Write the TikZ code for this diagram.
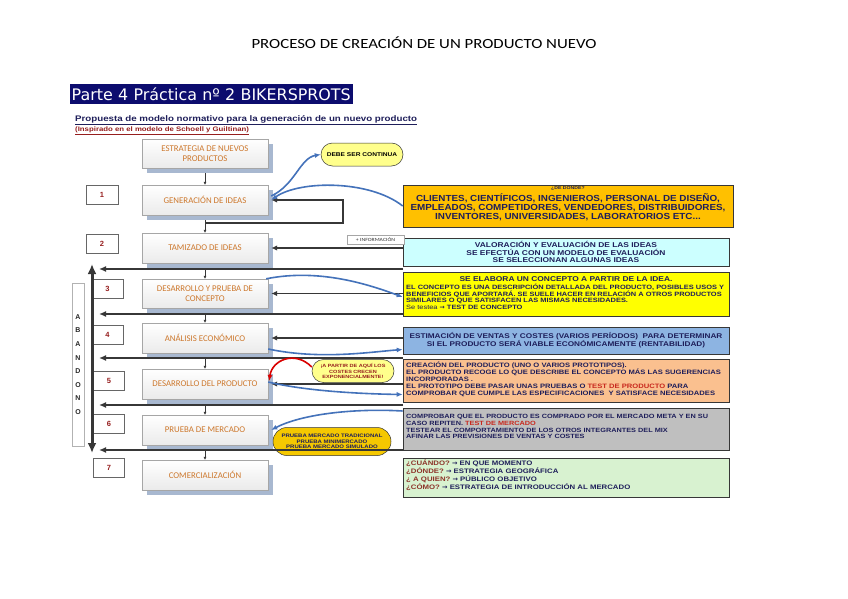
\documentclass[tikz,border=0pt]{standalone}
\usepackage{fontspec}
\setmainfont{Liberation Sans}
\newfontfamily\calib{Carlito}
\newfontfamily\calibw[FakeStretch=1.2]{Carlito}
\newfontfamily\verd{DejaVu Sans}
\newfontfamily\wide[FakeStretch=1.2]{Liberation Sans}
\newfontfamily\widem[FakeStretch=1.12]{Liberation Sans}
\newfontfamily\dejav{DejaVu Sans}
\usetikzlibrary{arrows.meta,shapes.misc,shadows}
\definecolor{navyband}{RGB}{12,12,110}
\definecolor{navytxt}{RGB}{30,30,90}
\definecolor{redtxt}{RGB}{150,30,30}
\definecolor{qred}{RGB}{140,50,40}
\definecolor{boxtxt}{RGB}{205,120,45}
\definecolor{shadowc}{RGB}{168,184,208}
\definecolor{dorange}{RGB}{255,192,0}
\definecolor{dcyan}{RGB}{204,255,255}
\definecolor{dyellow}{RGB}{255,255,0}
\definecolor{dblue}{RGB}{141,180,226}
\definecolor{dpeach}{RGB}{250,192,143}
\definecolor{dgray}{RGB}{191,191,191}
\definecolor{dgreen}{RGB}{216,242,208}
\definecolor{arrblue}{RGB}{68,114,186}
\definecolor{linedark}{RGB}{55,55,55}
\definecolor{testred}{RGB}{200,40,30}
\definecolor{ovalyel}{RGB}{255,255,140}
\definecolor{ovalgold}{RGB}{245,200,0}
\newcommand\rarr{{\dejav →}}
\begin{document}
\begin{tikzpicture}[x=1pt,y=-1pt,
 mainbox/.style={draw=gray!70, line width=0.4pt, shading=axis, top color=white, bottom color=gray!16,
   minimum width=126pt, minimum height=30pt, inner sep=1pt, align=center,
   font=\calib\fontsize{8.8}{10}\selectfont, text=boxtxt,
   general shadow={fill=shadowc, shadow xshift=5pt, shadow yshift=-5pt}},
 numbox/.style={draw=gray!80!black, line width=0.5pt, fill=white, minimum width=31pt, minimum height=19pt,
   inner sep=0pt, font=\bfseries\fontsize{7.5}{8}\selectfont, text=redtxt},
 descbox/.style={draw=linedark, line width=0.6pt, minimum width=326pt, inner sep=0pt},
 dtext/.style={inner sep=0pt, text=navytxt, font=\wide\bfseries\fontsize{6.2}{6.6}\selectfont, align=left},
 longarr/.style={draw=linedark, line width=2pt, -{Latex[length=7pt,width=6pt]}},
 inarr/.style={draw=linedark, line width=1.8pt, -{Latex[length=6pt,width=5.5pt]}},
 smallarr/.style={draw=linedark, line width=0.5pt, -{Latex[length=3pt,width=3pt]}},
 bluearr/.style={draw=arrblue, line width=1.6pt, -{Latex[length=6pt,width=5pt]}},
 redarr/.style={draw=red!85!black, line width=1.6pt, -{Latex[length=6pt,width=5pt]}},
 oval/.style={rounded rectangle, draw=black!80, line width=0.5pt, inner sep=1pt, align=center,
   font=\wide\bfseries\fontsize{5.2}{5.8}\selectfont}]
\fill[white] (0,0) rectangle (848,599);
\useasboundingbox (0,0) rectangle (848,599);

% headings
\node (title) at (424,43) {\calibw\fontsize{14}{16}\selectfont PROCESO DE CREACIÓN DE UN PRODUCTO NUEVO};
\node[fill=navyband, text=white, anchor=west, text width=280pt, inner xsep=1.5pt, minimum height=20pt, inner ysep=0pt,
  font=\verd\fontsize{15.9}{17}\selectfont] (band) at (70,94.5) {Parte 4 Práctica nº 2 BIKERSPROTS};
\node[anchor=west, inner sep=0pt, text=navytxt, font=\wide\bfseries\fontsize{8.1}{9}\selectfont] (prop) at (75,120)
  {\underline{Propuesta de modelo normativo para la generación de un nuevo producto}};
\node[anchor=west, inner sep=0pt, text=redtxt, font=\wide\bfseries\fontsize{6.5}{7}\selectfont] (insp) at (75,131)
  {\underline{(Inspirado en el modelo de Schoell y Guiltinan)}};

% main boxes
\node[mainbox, minimum height=29pt] (B0) at (205,153.5) {ESTRATEGIA DE NUEVOS\\PRODUCTOS};
\node[mainbox] (B1) at (205,200) {GENERACIÓN DE IDEAS};
\node[mainbox] (B2) at (205,248) {TAMIZADO DE IDEAS};
\node[mainbox, minimum height=29pt] (B3) at (205,293.5) {DESARROLLO Y PRUEBA DE\\CONCEPTO};
\node[mainbox] (B4) at (205,338) {ANÁLISIS ECONÓMICO};
\node[mainbox] (B5) at (205,384) {DESARROLLO DEL PRODUCTO};
\node[mainbox] (B6) at (205,430) {PRUEBA DE MERCADO};
\node[mainbox] (B7) at (205,475) {COMERCIALIZACIÓN};

\draw[smallarr] ([yshift=-5pt]B0.south) -- (B1.north);
\draw[smallarr] ([yshift=-5pt]B1.south) -- (B2.north);
\draw[smallarr] ([yshift=-5pt]B2.south) -- (B3.north);
\draw[smallarr] ([yshift=-5pt]B3.south) -- (B4.north);
\draw[smallarr] ([yshift=-5pt]B4.south) -- (B5.north);
\draw[smallarr] ([yshift=-5pt]B5.south) -- (B6.north);
\draw[smallarr] ([yshift=-5pt]B6.south) -- (B7.north);

% number boxes
\node[numbox, minimum width=32pt] (N1) at (102,195) {1};
\node[numbox, minimum width=32pt] (N2) at (102,244) {2};
\node[numbox] (N3) at (107.5,289) {3};
\node[numbox] (N4) at (107.5,334.5) {4};
\node[numbox] (N5) at (109,380.5) {5};
\node[numbox] (N6) at (109,424) {6};
\node[numbox] (N7) at (109,468) {7};

% abandono
\node[draw=gray!60, line width=0.5pt, minimum width=12pt, minimum height=163pt, inner sep=0pt] (abfr) at (78,364.5) {};
\node[align=center, inner sep=0pt, text=black!85, font=\bfseries\fontsize{7}{13.6}\selectfont] (aband) at (78,364.5)
  {A\\B\\A\\N\\D\\O\\N\\O};
\coordinate (vtop) at (92,264);
\coordinate (vbot) at (92,453);
\draw[draw=linedark, line width=3pt, {Latex[length=10pt,width=9pt]}-{Latex[length=10pt,width=9pt]}] (vtop) -- (vbot);

% description boxes
\node[descbox, fill=dorange, minimum width=330pt, minimum height=42pt] (D1) at (568,206) {};
\node[descbox, fill=dcyan, minimum height=28pt] (D2) at (566,252) {};
\node[descbox, fill=dyellow, minimum height=44pt] (D3) at (566,294) {};
\node[descbox, fill=dblue, minimum height=27pt] (D4) at (566,340.5) {};
\node[descbox, fill=dpeach, minimum height=43pt] (D5) at (566,380.5) {};
\node[descbox, fill=dgray, minimum height=42pt] (D6) at (566,429) {};
\node[descbox, fill=dgreen, minimum height=39pt] (D7) at (566,477.5) {};

% description texts
\node[inner sep=0pt, text=navytxt, font=\wide\bfseries\fontsize{4.3}{5}\selectfont] (t1a) at (568,188) {¿DE DÓNDE?};
\node[inner sep=0pt, text=navytxt, align=center, font=\widem\bfseries\fontsize{8.8}{9.2}\selectfont] (t1b) at (568,207)
 {CLIENTES, CIENTÍFICOS, INGENIEROS, PERSONAL DE DISEÑO,\\
  EMPLEADOS, COMPETIDORES, VENDEDORES, DISTRIBUIDORES,\\
  INVENTORES, UNIVERSIDADES, LABORATORIOS ETC...};
\node[dtext, align=center, font=\wide\bfseries\fontsize{7}{7.8}\selectfont] (t2) at (566,252)
 {VALORACIÓN Y EVALUACIÓN DE LAS IDEAS\\SE EFECTÚA CON UN MODELO DE EVALUACIÓN\\SE SELECCIONAN ALGUNAS IDEAS};
\node[dtext, align=center, font=\wide\bfseries\fontsize{7}{7.5}\selectfont] (t3a) at (566,279.5)
 {SE ELABORA UN CONCEPTO A PARTIR DE LA IDEA.};
\node[dtext, anchor=north west] (t3b) at (406,284)
 {EL CONCEPTO ES UNA DESCRIPCIÓN DETALLADA DEL PRODUCTO, POSIBLES USOS Y\\
  BENEFICIOS QUE APORTARÁ. SE SUELE HACER EN RELACIÓN A OTROS PRODUCTOS\\
  SIMILARES O QUE SATISFACEN LAS MISMAS NECESIDADES.\\
  {\mdseries Se testea} \rarr{} TEST DE CONCEPTO};
\node[dtext, align=center, font=\wide\bfseries\fontsize{6.85}{8}\selectfont] (t4) at (566,340.5)
 {ESTIMACIÓN DE VENTAS Y COSTES (VARIOS PERÍODOS)\ \ PARA DETERMINAR\\
  SI EL PRODUCTO SERÁ VIABLE ECONÓMICAMENTE (RENTABILIDAD)};
\node[dtext, anchor=north west, font=\wide\bfseries\fontsize{6.35}{7}\selectfont] (t5) at (406,362)
 {CREACIÓN DEL PRODUCTO (UNO O VARIOS PROTOTIPOS).\\
  EL PRODUCTO RECOGE LO QUE DESCRIBE EL CONCEPTO MÁS LAS SUGERENCIAS\\
  INCORPORADAS .\\
  EL PROTOTIPO DEBE PASAR UNAS PRUEBAS O {\color{testred}TEST DE PRODUCTO} PARA\\
  COMPROBAR QUE CUMPLE LAS ESPECIFICACIONES\ \ Y SATISFACE NECESIDADES};
\node[dtext, anchor=north west, font=\wide\bfseries\fontsize{6.1}{6.8}\selectfont] (t6) at (406,414)
 {COMPROBAR QUE EL PRODUCTO ES COMPRADO POR EL MERCADO META Y EN SU\\
  CASO REPITEN. {\color{testred}TEST DE MERCADO}\\
  TESTEAR EL COMPORTAMIENTO DE LOS OTROS INTEGRANTES DEL MIX\\
  AFINAR LAS PREVISIONES DE VENTAS Y COSTES};
\node[dtext, anchor=north west, font=\wide\bfseries\fontsize{6.5}{6.4}\selectfont] (t7) at (406,459.5)
 {{\color{qred}¿CUÁNDO?} \rarr{} EN QUE MOMENTO\\
  {\color{qred}¿DÓNDE?} \rarr{} ESTRATEGIA GEOGRÁFICA\\
  {\color{qred}¿ A QUIEN?} \rarr{} PÚBLICO OBJETIVO\\
  {\color{qred}¿CÓMO?} \rarr{} ESTRATEGIA DE INTRODUCCIÓN AL MERCADO};

% ovals and small box
\node[oval, fill=ovalyel, minimum width=84pt, minimum height=23pt, font=\wide\bfseries\fontsize{5.5}{6}\selectfont] (O1) at (362,154.5) {DEBE SER CONTINUA};
\node[oval, fill=ovalyel, minimum width=84pt, minimum height=23pt, text=redtxt, font=\wide\bfseries\fontsize{4.6}{5.4}\selectfont] (O2) at (353,371)
 {¡A PARTIR DE AQUÍ LOS\\COSTES CRECEN\\EXPONENCIALMENTE!};
\node[oval, fill=ovalgold, minimum width=120pt, minimum height=28pt, text=navytxt, font=\wide\bfseries\fontsize{5}{5.6}\selectfont] (O3) at (332,441.5)
 {PRUEBA MERCADO TRADICIONAL\\PRUEBA MINIMERCADO\\PRUEBA MERCADO SIMULADO};
\node[draw=gray!70, fill=white, minimum width=57pt, minimum height=9pt, inner sep=0pt,
  font=\calibw\fontsize{4.8}{5}\selectfont, text=black!80] (info) at (375.5,239.5) {+ INFORMACIÓN};

% loop at generación
\coordinate (L1) at (205,223);
\coordinate (L2) at (343,223);
\coordinate (L3) at (343,200);
\draw[draw=linedark, line width=1.8pt] (L1) -- (L2) -- (L3) -- ([xshift=40pt]B1.east);
\draw[inarr] ([xshift=40pt]B1.east) -- ([xshift=3pt]B1.east);

% arrows into boxes
\draw[inarr] (D2.west |- B2.east) -- ([xshift=3pt]B2.east);
\draw[inarr] (D2.west |- B3.east) -- ([xshift=3pt]B3.east);
\draw[inarr] (D2.west |- B4.east) -- ([xshift=3pt]B4.east);
\draw[inarr] (D2.west |- B5.east) -- ([xshift=3pt]B5.east);

% long return arrows
\coordinate (R1) at (403,269); \coordinate (E1) at (99,269);
\coordinate (R2) at (403,314); \coordinate (E2) at (99,314);
\coordinate (R3) at (403,358); \coordinate (E3) at (99,358);
\coordinate (R4) at (403,405); \coordinate (E4) at (99,405);
\coordinate (R5) at (403,450); \coordinate (E5) at (99,450);
\draw[longarr] (R1) -- (E1);
\draw[longarr] (R2) -- (E2);
\draw[longarr] (R3) -- (E3);
\draw[longarr] (R4) -- (E4);
\draw[longarr] (R5) -- (E5);

% blue curved arrows
\draw[bluearr] (D1.west) .. controls (370,180) and (300,180) .. ([xshift=3pt]B1.east);
\draw[bluearr] ([xshift=3pt,yshift=4pt]B1.east) .. controls (295,185) and (300,158) .. (O1.west);
\draw[bluearr] ([xshift=-2pt]B3.north east) .. controls (320,268) and (370,285) .. ([yshift=-3pt]D3.west);
\draw[bluearr] ([yshift=-11pt]B4.east) .. controls (320,360) and (370,352) .. ([yshift=-9pt]D4.west);
\draw[bluearr] ([yshift=2pt]B5.east) .. controls (310,392) and (370,394) .. ([yshift=-14pt]D5.west);
\draw[bluearr] ([yshift=18pt]D6.west) .. controls (350,408) and (300,415) .. ([xshift=3pt]B6.east);
\draw[redarr] ([yshift=4pt]O2.west) .. controls (295,350) and (272,360) .. ([xshift=1pt,yshift=3pt]B5.east);
\end{tikzpicture}
\end{document}
